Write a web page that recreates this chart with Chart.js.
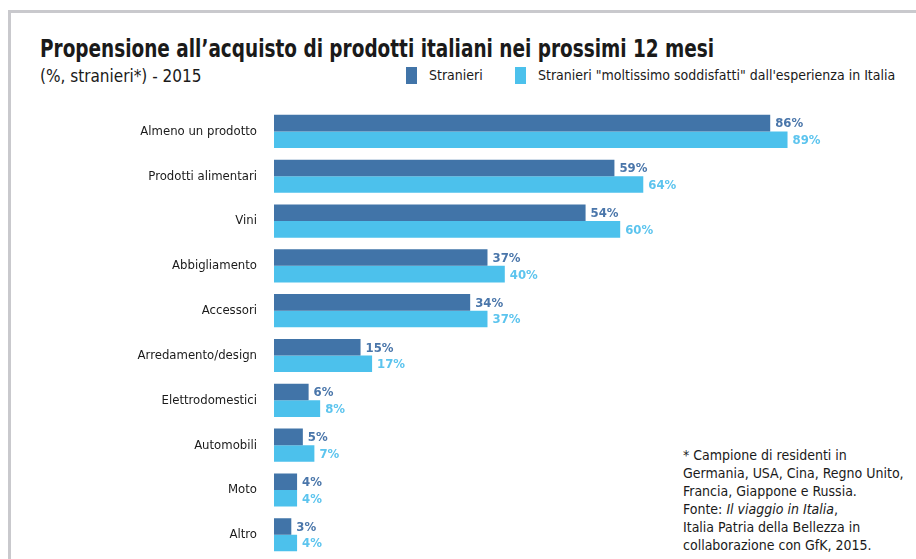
<!DOCTYPE html>
<html>
<head>
  <title>Propensione all'acquisto di prodotti italiani</title>
  <script src="https://cdn.jsdelivr.net/npm/chart.js"></script>
  <style>
    body { margin: 0; width: 916px; height: 559px; overflow: hidden; background: #fff; font-family: "DejaVu Sans Condensed", sans-serif; color: #1a1a1a; position: relative; }
    .frame { position: absolute; left: 8px; top: 10px; width: 940px; height: 600px; border: 3px solid #c9c9cd; box-sizing: border-box; }
    .title { position: absolute; left: 40px; top: 35px; font-size: 24px; font-weight: bold; white-space: nowrap; transform: scaleX(0.855); transform-origin: 0 0; }
    .sub { position: absolute; left: 40px; top: 66px; font-size: 17px; white-space: nowrap; }
    .legend { position: absolute; top: 67px; font-size: 14px; white-space: nowrap; }
    .legend span.box { display: inline-block; width: 11px; height: 17px; vertical-align: -4px; margin-right: 12px; }
    .note { position: absolute; left: 683px; top: 446px; font-size: 14px; line-height: 18px; white-space: nowrap; }
    canvas { position: absolute; left: 0; top: 0; }
  </style>
</head>
<body>
  <div class="frame"></div>
  <div class="title">Propensione all’acquisto di prodotti italiani nei prossimi 12 mesi</div>
  <div class="sub">(%, stranieri*) - 2015</div>
  <div class="legend" style="left:406px"><span class="box" style="background:#4174a8"></span>Stranieri</div>
  <div class="legend" style="left:515px"><span class="box" style="background:#4cc1ec"></span>Stranieri "moltissimo soddisfatti" dall'esperienza in Italia</div>
  <div class="note">* Campione di residenti in<br>Germania, USA, Cina, Regno Unito,<br>Francia, Giappone e Russia.<br>Fonte: <i>Il viaggio in Italia</i>,<br>Italia Patria della Bellezza in<br>collaborazione con GfK, 2015.</div>
  <canvas id="chart" width="916" height="574"></canvas>

  <script>
    // categories and values
    var categories = ['Almeno un prodotto', 'Prodotti alimentari', 'Vini', 'Abbigliamento', 'Accessori',
      'Arredamento/design', 'Elettrodomestici', 'Automobili', 'Moto', 'Altro'];
    var stranieri = [86, 59, 54, 37, 34, 15, 6, 5, 4, 3];
    var soddisfatti = [89, 64, 60, 40, 37, 17, 8, 7, 4, 4];

    var darkBlue = '#4174a8';
    var lightBlue = '#4cc1ec';

    // value labels to the right of each bar
    var valueLabels = {
      id: 'valueLabels',
      afterDatasetsDraw: function(chart) {
        var ctx = chart.ctx;
        ctx.save();
        ctx.font = 'bold 13px "DejaVu Sans Condensed", sans-serif';
        ctx.textBaseline = 'middle';
        ctx.textAlign = 'left';
        chart.data.datasets.forEach(function(ds, i) {
          var meta = chart.getDatasetMeta(i);
          ctx.fillStyle = i === 0 ? '#4a76aa' : '#5cc4ee';
          meta.data.forEach(function(bar, j) {
            ctx.fillText(ds.data[j] + '%', bar.x + 5, bar.y + 1);
          });
        });
        ctx.restore();
      }
    };

    var ctx = document.getElementById('chart').getContext('2d');
    var chart = new Chart(ctx, {
      type: 'bar',
      data: {
        labels: categories,
        datasets: [
          { label: 'Stranieri', data: stranieri, backgroundColor: darkBlue },
          { label: 'Stranieri "moltissimo soddisfatti" dall\'esperienza in Italia', data: soddisfatti, backgroundColor: lightBlue }
        ]
      },
      options: {
        indexAxis: 'y',
        responsive: false,
        animation: false,
        datasets: { bar: { barPercentage: 1, categoryPercentage: 0.74 } },
        layout: { padding: { left: 0, right: 65, top: 109, bottom: 5 } },
        plugins: {
          legend: { display: false },
          tooltip: { enabled: false }
        },
        scales: {
          x: { display: false, min: 0, max: 100 },
          y: {
            grid: { display: false },
            border: { display: false },
            ticks: {
              padding: 9,
              color: '#1a1a1a',
              font: { family: '"DejaVu Sans Condensed", sans-serif', size: 13 }
            },
            afterFit: function(scale) { scale.width = 274; }
          }
        }
      },
      plugins: [valueLabels]
    });
  </script>
</body>
</html>
